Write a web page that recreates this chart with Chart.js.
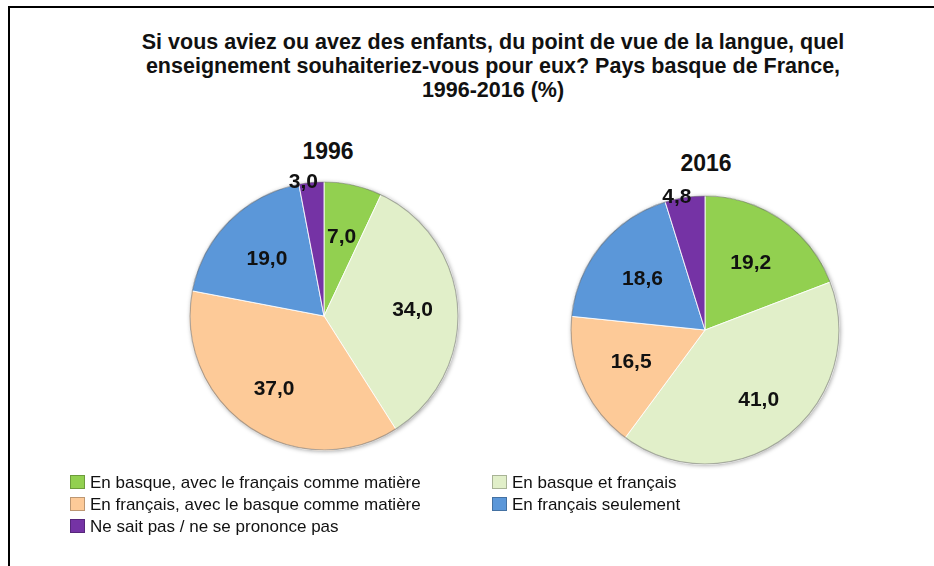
<!DOCTYPE html>
<html lang="fr">
<head>
  <meta charset="UTF-8">
  <title>Enseignement souhaité – Pays basque de France</title>
  <style>
    body { margin: 0; background: #fff; font-family: "Liberation Sans", Arial, sans-serif; }
    #cadre { position: absolute; left: 8px; top: 6px; width: 940px; height: 580px; border-left: 2px solid #000; border-top: 2px solid #000; }
    #titre { position: absolute; left: 0; width: 986px; top: 30px; text-align: center; font-weight: bold; font-size: 21.5px; line-height: 24px; color: #111; }
    .annee { position: absolute; font-weight: bold; font-size: 23px; line-height: 26px; color: #111; width: 100px; text-align: center; }
    .pie { position: absolute; }
    #legende { position: absolute; left: 70px; top: 473px; font-size: 17px; color: #111; }
    .item { position: absolute; white-space: nowrap; line-height: 20px; }
    .carre { display: inline-block; width: 15px; height: 14px; vertical-align: -1px; margin-right: 5px; border: 1px solid rgba(0,0,0,0.25); box-sizing: border-box; }
  </style>
</head>
<body>
  <div id="cadre"></div>
  <div id="titre">Si vous aviez ou avez des enfants, du point de vue de la langue, quel<br>enseignement souhaiteriez-vous pour eux? Pays basque de France,<br>1996-2016 (%)</div>

  <div class="annee" style="left:278px; top:138px;">1996</div>
  <div class="annee" style="left:656px; top:150px;">2016</div>

  <canvas id="pie1996" class="pie" width="320" height="320" style="left:164px; top:156px;"></canvas>
  <canvas id="pie2016" class="pie" width="320" height="320" style="left:545px; top:170px;"></canvas>

  <div id="legende"></div>

  <script src="https://cdn.jsdelivr.net/npm/chart.js"></script>
  <script>
    // Données
    const categories = [
      'En basque, avec le français comme matière',
      'En basque et français',
      'En français, avec le basque comme matière',
      'En français seulement',
      'Ne sait pas / ne se prononce pas'
    ];
    const valeurs1996 = [7.0, 34.0, 37.0, 19.0, 3.0];
    const valeurs2016 = [19.2, 41.0, 16.5, 18.6, 4.8];
    const couleurs = ['#92d050', '#e1efc9', '#fdca98', '#5b97d9', '#7533a5'];

    // Étiquettes de valeurs sur les secteurs
    const etiquettes = {
      id: 'etiquettes',
      afterDatasetsDraw(chart) {
        const ctx = chart.ctx;
        const meta = chart.getDatasetMeta(0);
        const data = chart.data.datasets[0].data;
        ctx.save();
        ctx.font = 'bold 21px "Liberation Sans", Arial, sans-serif';
        ctx.fillStyle = '#111';
        ctx.textAlign = 'center';
        ctx.textBaseline = 'middle';
        meta.data.forEach((arc, i) => {
          const p = arc.getProps(['x', 'y', 'startAngle', 'endAngle', 'outerRadius']);
          const mid = (p.startAngle + p.endAngle) / 2;
          // petits secteurs : étiquette sur le bord ; grands : un peu plus loin du centre
          const f = data[i] < 6 ? 1.0 : (data[i] > 30 ? 0.66 : 0.6);
          const r = p.outerRadius * f;
          const dx = data[i] < 6 ? -8 : 0;
          ctx.fillText(data[i].toFixed(1).replace('.', ','), p.x + Math.cos(mid) * r + dx, p.y + Math.sin(mid) * r);
        });
        ctx.restore();
      }
    };

    // Ombre / contour léger autour du disque
    const contour = {
      id: 'contour',
      beforeDatasetsDraw(chart) {
        const arc = chart.getDatasetMeta(0).data[0];
        if (!arc) return;
        const p = arc.getProps(['x', 'y', 'outerRadius']);
        const ctx = chart.ctx;
        ctx.save();
        ctx.shadowColor = 'rgba(0,0,0,0.35)';
        ctx.shadowBlur = 4;
        ctx.shadowOffsetX = 1;
        ctx.shadowOffsetY = 1;
        ctx.fillStyle = '#fff';
        ctx.beginPath();
        ctx.arc(p.x, p.y, p.outerRadius, 0, Math.PI * 2);
        ctx.fill();
        ctx.restore();
      },
      afterDatasetsDraw(chart) {
        const arc = chart.getDatasetMeta(0).data[0];
        if (!arc) return;
        const p = arc.getProps(['x', 'y', 'outerRadius']);
        const ctx = chart.ctx;
        ctx.save();
        ctx.strokeStyle = 'rgba(110,110,110,0.55)';
        ctx.lineWidth = 1.2;
        ctx.beginPath();
        ctx.arc(p.x, p.y, p.outerRadius - 0.5, 0, Math.PI * 2);
        ctx.stroke();
        ctx.restore();
      }
    };

    function camembert(id, valeurs) {
      return new Chart(document.getElementById(id), {
        type: 'pie',
        data: {
          labels: categories,
          datasets: [{
            data: valeurs,
            backgroundColor: couleurs,
            borderColor: 'rgba(255,255,255,0.85)',
            borderWidth: 1
          }]
        },
        options: {
          responsive: false,
          animation: false,
          layout: { padding: 25 },
          plugins: {
            legend: { display: false },
            tooltip: { enabled: false }
          }
        },
        plugins: [contour, etiquettes]
      });
    }

    camembert('pie1996', valeurs1996);
    camembert('pie2016', valeurs2016);

    // Légende HTML (2 colonnes)
    const leg = document.getElementById('legende');
    categories.forEach((nom, k) => {
      const d = document.createElement('div');
      d.className = 'item';
      d.style.left = (k % 2 ? 422 : 0) + 'px';
      d.style.top = (Math.floor(k / 2) * 22) + 'px';
      d.innerHTML = '<span class="carre" style="background:' + couleurs[k] + '"></span>' + nom;
      leg.appendChild(d);
    });
  </script>
</body>
</html>
